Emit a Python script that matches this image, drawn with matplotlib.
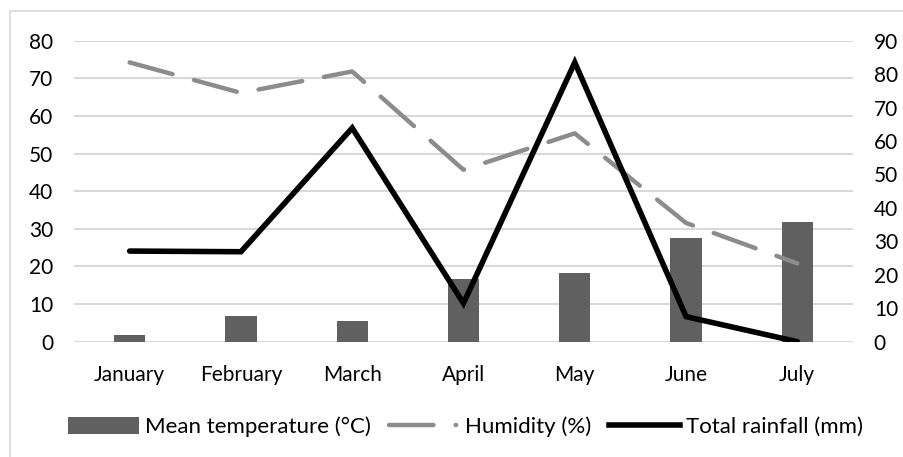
import matplotlib.pyplot as plt
from matplotlib.lines import Line2D
from matplotlib.patches import Patch, Rectangle
import numpy as np

months = ['January', 'February', 'March', 'April', 'May', 'June', 'July']
temperature = [1.8, 6.8, 5.6, 16.7, 18.2, 27.5, 31.8]   # left axis
humidity = [83.5, 74.4, 80.8, 51.4, 62.3, 35.5, 23.4]    # right axis
rainfall = [27.1, 26.9, 63.9, 11.5, 83.5, 7.5, 0.0]      # right axis

plt.rcParams['font.family'] = ['Lato', 'DejaVu Sans']
plt.rcParams['font.size'] = 15

fig = plt.figure(figsize=(9.04, 4.57), dpi=100)
W, H = 904, 457
ax = fig.add_axes([74 / W, 1 - 341.7 / H, (853 - 74) / W, (341.7 - 40.7) / H])

# chart frame
fig.patches.append(Rectangle((10 / W, -0.1), 1.2, 1 - 11 / H + 0.1, transform=fig.transFigure,
                             fill=False, edgecolor='#d9d9d9', lw=1.2))

x = np.arange(len(months))
ax.bar(x, temperature, width=0.28, color='#606060', zorder=2)
ax.set_xlim(-0.5, len(months) - 0.5)
ax.set_ylim(0, 80)
ax.set_yticks(range(0, 81, 10))
ax.set_xticks(x)
ax.set_xticklabels(months)
ax.grid(axis='y', color='#d9d9d9', lw=1.5, zorder=0)
ax.set_axisbelow(True)
ax.tick_params(axis='y', length=0, pad=15, colors='#000000')
ax.tick_params(axis='x', length=0, pad=17)
for s in ax.spines.values():
    s.set_visible(False)

ax2 = ax.twinx()
ax2.set_ylim(0, 90)
ax2.set_yticks(range(0, 91, 10))
ax2.plot(x, humidity, color='#8c8c8c', lw=3.2, dashes=(10, 5), dash_capstyle='round',
         solid_capstyle='round', zorder=3)
ax2.plot(x, rainfall, color='#000000', lw=4, solid_joinstyle='miter', solid_capstyle='round', zorder=4)
ax2.tick_params(axis='y', length=0, pad=15)
for s in ax2.spines.values():
    s.set_visible(False)

handles = [
    Patch(facecolor='#606060', edgecolor='none'),
    Line2D([], [], color='#8c8c8c', lw=3.2, dashes=(10, 5, 0.1, 10), dash_capstyle='round'),
    Line2D([], [], color='#000000', lw=4),
]
labels = ['Mean temperature (°C)', 'Humidity (%)', 'Total rainfall (mm)']
fig.legend(handles, labels, loc='center', bbox_to_anchor=(0.515, 1 - 427 / H), ncol=3,
           frameon=False, fontsize=16, handlelength=3.2, handleheight=0.75, handletextpad=0.25,
           columnspacing=0.8, borderpad=0)

fig.savefig('out.png', dpi=100)
